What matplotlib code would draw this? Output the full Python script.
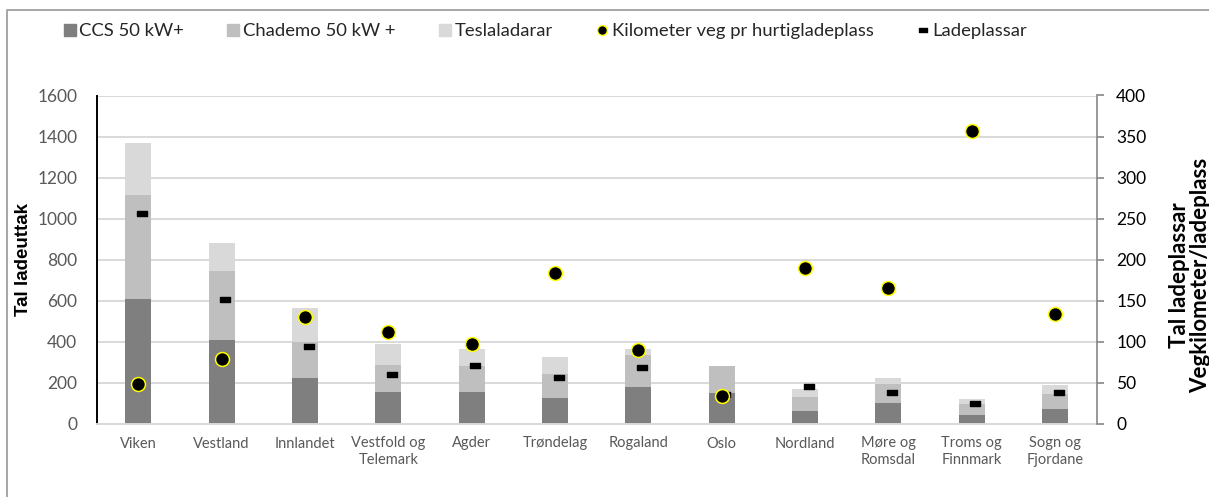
import matplotlib
matplotlib.use("Agg")
import matplotlib.pyplot as plt
from matplotlib.lines import Line2D
from matplotlib.path import Path
import numpy as np

categories = ["Viken", "Vestland", "Innlandet", "Vestfold og\nTelemark", "Agder",
              "Trøndelag", "Rogaland", "Oslo", "Nordland", "Møre og\nRomsdal",
              "Troms og\nFinnmark", "Sogn og\nFjordane"]
ccs = [611, 407, 223, 154, 154, 126, 180, 151, 64, 102, 46, 75]
chademo = [503, 337, 177, 133, 128, 117, 156, 131, 67, 91, 49, 71]
tesla = [253, 136, 164, 103, 84, 82, 31, 0, 39, 32, 28, 44]
km_veg = [49, 79.5, 130, 112.5, 97.5, 184, 90, 34, 190.5, 165, 357, 134]
ladeplassar = [257, 152, 95, 60.5, 71.5, 57, 69.5, 37, 46, 39, 26, 39]

left_ticks = [0, 200, 400, 600, 800, 1000, 1200, 1400, 1600]
right_ticks = [0, 50, 100, 150, 200, 250, 300, 350, 400]

FONT = ["Lato", "DejaVu Sans"]
plt.rcParams["font.family"] = FONT

W, H = 1209, 497
fig = plt.figure(figsize=(W / 100, H / 100), dpi=100)
ax = fig.add_axes([96.7 / W, 1 - 424 / H, 1000 / W, 328.5 / H])
ax2 = ax.twinx()

x = np.arange(len(categories))
bw = 0.315
c_ccs, c_cha, c_tes = "#7f7f7f", "#bfbfbf", "#d9d9d9"
ccs_a = np.array(ccs, float)
cha_a = np.array(chademo, float)
tes_a = np.array(tesla, float)
ax.bar(x, ccs_a, bw, color=c_ccs, zorder=2)
ax.bar(x, cha_a, bw, bottom=ccs_a, color=c_cha, zorder=2)
ax.bar(x, tes_a, bw, bottom=ccs_a + cha_a, color=c_tes, zorder=2)

ax.set_xlim(-0.5, len(categories) - 0.5)
ax.set_ylim(0, 1600)
ax.set_yticks(left_ticks)
ax.yaxis.grid(True, color="#d9d9d9", lw=1.4, zorder=0)
ax.set_axisbelow(True)
ax.set_xticks(x)
ax.set_xticklabels(categories, fontsize=10.5, color="#595959", linespacing=1.25)
ax.tick_params(axis="x", length=0, pad=9)
ax.tick_params(axis="y", length=0, pad=14, labelsize=12.5, labelcolor="#595959")
for s in ["top", "right"]:
    ax.spines[s].set_visible(False)
ax.spines["left"].set_color("black")
ax.spines["left"].set_linewidth(1.4)
ax.spines["bottom"].set_color("#d9d9d9")
ax.spines["bottom"].set_linewidth(1.4)

dash = Path([(-1, -0.5), (1, -0.5), (1, 0.5), (-1, 0.5), (-1, -0.5)],
            [Path.MOVETO, Path.LINETO, Path.LINETO, Path.LINETO, Path.CLOSEPOLY])

ax2.set_ylim(0, 400)
ax2.set_yticks(right_ticks)
ax2.plot(x + 0.045, ladeplassar, ls="none", marker=dash, ms=7.2, color="black", zorder=3)
ax2.plot(x, km_veg, ls="none", marker="o", ms=10, mfc="black", mec="#ffff00", mew=1.1, zorder=4)
for s in ["top", "left", "bottom"]:
    ax2.spines[s].set_visible(False)
ax2.spines["right"].set_color("#868686")
ax2.spines["right"].set_linewidth(1.2)
ax2.tick_params(axis="y", length=5, width=1.2, color="#868686", pad=9, labelsize=12.5, labelcolor="black")

fig.text(24 / W, 1 - 259 / H, "Tal ladeuttak", rotation=90, ha="center", va="center",
         fontsize=13.5, fontweight="bold", family=["Liberation Sans", "DejaVu Sans"])
fig.text(1190 / W, 1 - 275 / H, "Tal ladeplassar\nVegkilometer/ladeplass", rotation=90,
         ha="center", va="center", multialignment="center",
         fontsize=16, fontweight="bold", linespacing=0.98)

handles = [
    Line2D([], [], ls="none", marker="s", ms=8, color=c_ccs),
    Line2D([], [], ls="none", marker="s", ms=8, color=c_cha),
    Line2D([], [], ls="none", marker="s", ms=8, color=c_tes),
    Line2D([], [], ls="none", marker="o", ms=7, mfc="black", mec="#ffff00", mew=1.0),
    Line2D([], [], ls="none", marker=dash, ms=6, color="black"),
]
labels = ["CCS 50 kW+", "Chademo 50 kW +", "Teslaladarar",
          "Kilometer veg pr hurtigladeplass", "Ladeplassar"]
fig.legend(handles, labels, loc="center", bbox_to_anchor=(545 / W, 1 - 31 / H), ncol=5,
           frameon=False, fontsize=13.3, handlelength=0.75, handletextpad=0.14,
           columnspacing=2.3, labelcolor="#262626", borderpad=0, borderaxespad=0)

bc = "#a6a6a6"
fig.add_artist(Line2D([7 / W, 7 / W, 1.0], [0.0, 1 - 10 / H, 1 - 10 / H],
                      transform=fig.transFigure, color=bc, lw=1.4))

fig.savefig("out.png", dpi=100)
